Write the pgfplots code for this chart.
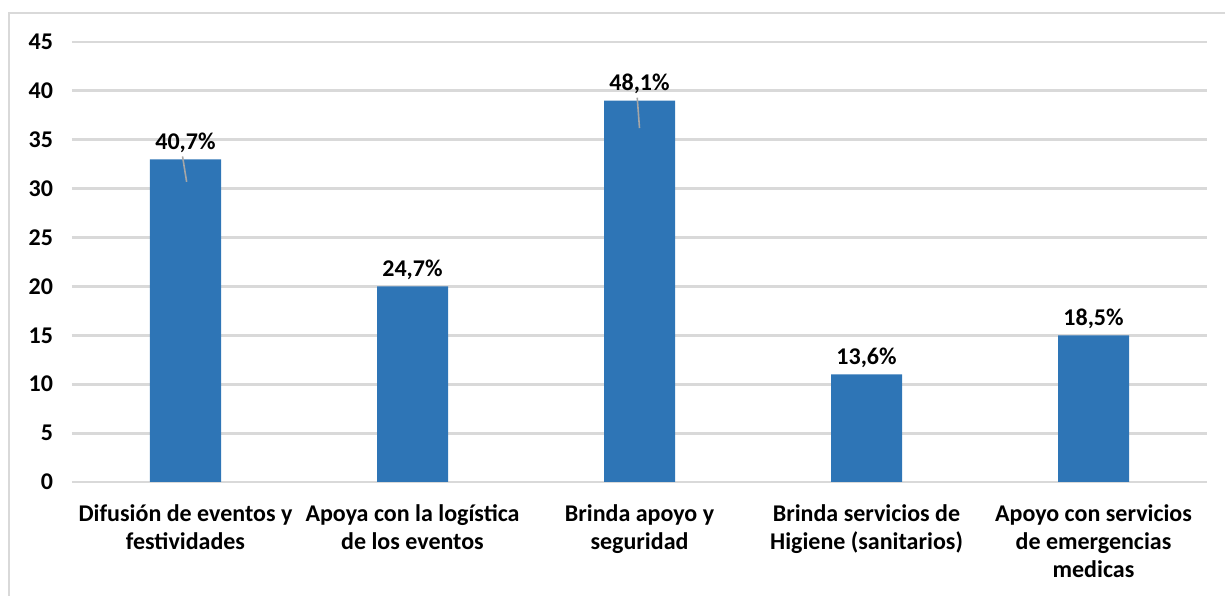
\documentclass[border=0pt]{standalone}
\usepackage{pgfplots}
\pgfplotsset{compat=1.18}
\usepackage{fontspec}
\setmainfont{Carlito}
\definecolor{barblue}{HTML}{2E75B6}
\definecolor{gridgray}{HTML}{D9D9D9}
\definecolor{leadgray}{HTML}{A6A6A6}

\begin{document}
\begin{tikzpicture}
\begin{axis}[
    name=ax,
    scale only axis,
    width=567.5pt, height=220pt,
    xmin=-0.5, xmax=4.5,
    ymin=0, ymax=45,
    ytick={0,5,...,45},
    xtick={0,...,4},
    xticklabels={
        {Difusión de eventos y\\festividades},
        {Apoya con la logística\\de los eventos},
        {Brinda apoyo y\\seguridad},
        {Brinda servicios de\\Higiene (sanitarios)},
        {Apoyo con servicios\\de emergencias\\medicas}},
    axis line style={draw=none},
    tick style={draw=none},
    ymajorgrids,
    grid style={gridgray, line width=1.4pt},
    /pgf/number format/assume math mode=true,
    ticklabel style={font=\fontsize{12}{14}\selectfont\bfseries},
    xticklabel style={align=center, yshift=-8pt},
    yticklabel style={xshift=-6pt},
    clip=false,
]
\addplot[ybar, bar width=35.5pt, fill=barblue, draw=none,
    nodes near coords,
    point meta=explicit symbolic,
    nodes near coords style={font=\fontsize{12}{14}\selectfont\bfseries, yshift=0pt},
] table[meta=label] {
x y label
0 33 40,7\%
1 20 24,7\%
2 39 48,1\%
3 11 13,6\%
4 15 18,5\%
};
% leader lines
\addplot[leadgray, line width=0.8pt, mark=none] coordinates {(-0.013,33.3) (0.005,30.7)};
\addplot[leadgray, line width=0.8pt, mark=none] coordinates {(1.99,39.3) (2.0,36.2)};
% frame
\draw[gridgray, line width=1pt]
    ([xshift=-31.5pt, yshift=-57pt]rel axis cs:0,0)
    -- ([xshift=-31.5pt, yshift=14.5pt]rel axis cs:0,1)
    -- ([xshift=9pt, yshift=14.5pt]rel axis cs:1,1);
\end{axis}
\pgfresetboundingbox
\path ([xshift=-36pt, yshift=-57pt]ax.south west) rectangle ([xshift=9pt, yshift=21pt]ax.north east);
\end{tikzpicture}
\end{document}
